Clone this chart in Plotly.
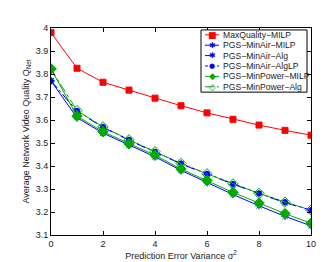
import plotly.graph_objects as go

x = list(range(11))
maxq_milp = [3.98, 3.825, 3.764, 3.730, 3.695, 3.662, 3.631, 3.603, 3.578, 3.555, 3.534]
minair_milp = [3.77, 3.610, 3.543, 3.490, 3.440, 3.381, 3.327, 3.276, 3.227, 3.181, 3.140]
minair_alg = [3.77, 3.638, 3.568, 3.512, 3.460, 3.409, 3.364, 3.320, 3.279, 3.241, 3.206]
minair_alglp = [3.77, 3.640, 3.570, 3.514, 3.462, 3.411, 3.366, 3.322, 3.281, 3.243, 3.208]
minpower_milp = [3.822, 3.617, 3.549, 3.497, 3.447, 3.387, 3.337, 3.285, 3.239, 3.193, 3.151]
minpower_alg = [3.822, 3.641, 3.570, 3.514, 3.462, 3.411, 3.366, 3.322, 3.281, 3.243, 3.208]
series_names = ["MaxQuality\u2212MILP", "PGS\u2212MinAir\u2212MILP", "PGS\u2212MinAir\u2212Alg",
                "PGS\u2212MinAir\u2212AlgLP", "PGS\u2212MinPower\u2212MILP", "PGS\u2212MinPower\u2212Alg"]
y_ticks = [3.1, 3.2, 3.3, 3.4, 3.5, 3.6, 3.7, 3.8, 3.9, 4.0]
y_tick_labels = ["3.1", "3.2", "3.3", "3.4", "3.5", "3.6", "3.7", "3.8", "3.9", "4"]

RED, BLUE, GREEN = "#ff0000", "#0000ff", "#00aa00"
styles = [
    dict(color=RED, dash="solid", symbol="square", size=6, glyph="\u25a0", gsize=9),
    dict(color=BLUE, dash="solid", symbol="asterisk-open", size=6, glyph="\u2731", gsize=8),
    dict(color=BLUE, dash="dash", symbol="asterisk-open", size=6, glyph="\u2731", gsize=8),
    dict(color=BLUE, dash="dot", symbol="circle", size=5, glyph="\u25cf", gsize=7),
    dict(color=GREEN, dash="solid", symbol="diamond", size=8, glyph="\u25c6", gsize=9),
    dict(color=GREEN, dash="dashdot", symbol="diamond-open", size=8, glyph="\u25c7", gsize=9),
]
series_values = [maxq_milp, minair_milp, minair_alg, minair_alglp, minpower_milp, minpower_alg]

fig = go.Figure()
for name, vals, st in zip(series_names, series_values, styles):
    fig.add_trace(go.Scatter(
        x=x, y=vals, name=name, mode="lines+markers", showlegend=False,
        line=dict(color=st["color"], width=1, dash=st["dash"]),
        marker=dict(symbol=st["symbol"], size=st["size"], color=st["color"],
                    line=dict(width=1, color=st["color"]))))

# --- layout geometry (pixels) ---
W, H = 334, 262
L, R, T, B = 43, 31, 20, 29
PW, PH = W - L - R, H - T - B

def xp(px):
    return (px - L) / PW

def yp(py):
    return (H - B - py) / PH

# custom compact legend box (MATLAB-style)
box_l, box_r, box_t, box_b = 193, 299, 22, 86
row0, row_h = 27, 10.7
shapes = [dict(type="rect", xref="paper", yref="paper", x0=xp(box_l), x1=xp(box_r),
               y0=yp(box_b), y1=yp(box_t), line=dict(color="black", width=1),
               fillcolor="white", layer="above")]
annotations = []
for i, (name, st) in enumerate(zip(series_names, styles)):
    cy = row0 + i * row_h
    shapes.append(dict(type="line", xref="paper", yref="paper", x0=xp(197), x1=xp(211),
                       y0=yp(cy), y1=yp(cy), layer="above",
                       line=dict(color=st["color"], width=1, dash=st["dash"])))
    annotations.append(dict(xref="paper", yref="paper", x=xp(204), y=yp(cy), text=st["glyph"],
                            showarrow=False, xanchor="center", yanchor="middle",
                            font=dict(size=st["gsize"], color=st["color"], family="DejaVu Sans")))
    annotations.append(dict(xref="paper", yref="paper", x=xp(212.5), y=yp(cy), text=name,
                            showarrow=False, xanchor="left", yanchor="middle",
                            font=dict(size=8.6, color="#222")))

axis_common = dict(showline=True, linecolor="black", linewidth=1, mirror="ticks",
                   ticks="inside", ticklen=4, tickcolor="black", showgrid=False, zeroline=False,
                   tickfont=dict(size=9, color="#222"))
fig.update_layout(
    width=W, height=H,
    margin=dict(l=L, r=R, t=T, b=B),
    paper_bgcolor="white", plot_bgcolor="white",
    font=dict(family="Liberation Sans, Arial, sans-serif", size=9, color="#222"),
    xaxis=dict(range=[0, 10], dtick=2, tick0=0,
               title=dict(text="Prediction Error Variance \u03c3<sup>2</sup>", font=dict(size=9), standoff=3),
               **axis_common),
    yaxis=dict(range=[3.1, 4.0], tickvals=y_ticks, ticktext=y_tick_labels,
               title=dict(text="Average Network Video Quality Q<sub>Net</sub>", font=dict(size=9), standoff=4),
               **axis_common),
    shapes=shapes,
    annotations=annotations,
    showlegend=False,
)
fig.write_html("out.html")
